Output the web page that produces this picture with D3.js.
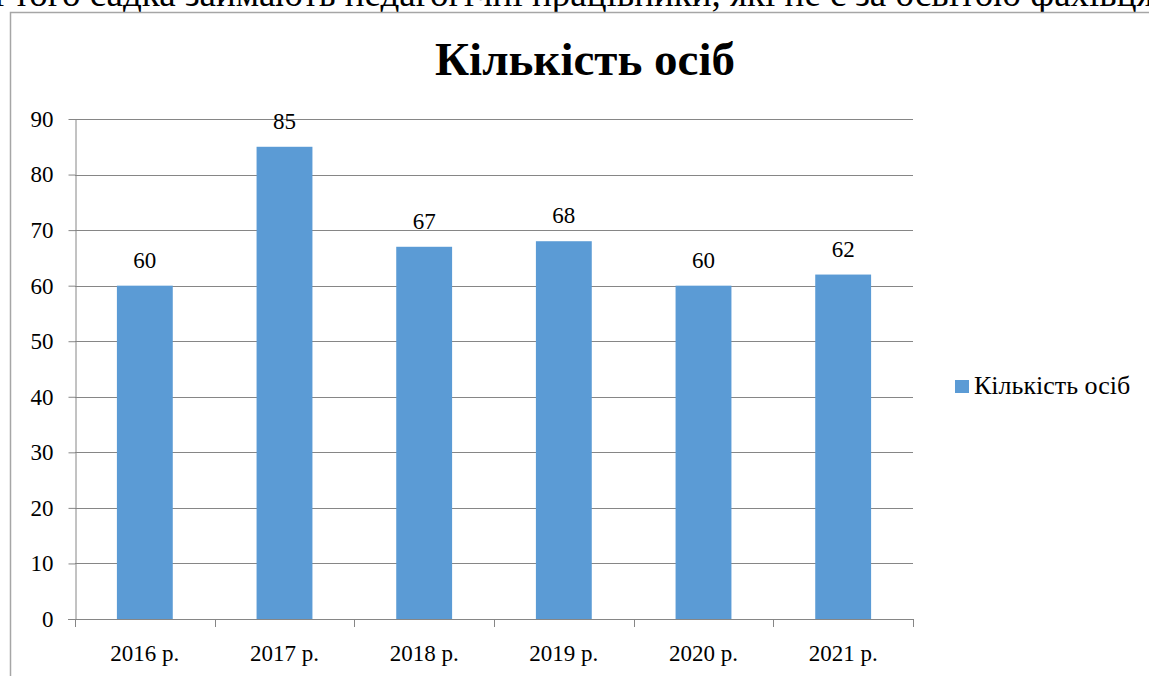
<!DOCTYPE html>
<html>
<head>
<meta charset="utf-8">
<script src="https://cdn.jsdelivr.net/npm/d3@7"></script>
<style>
  html, body { margin: 0; padding: 0; background: #fff; overflow: hidden; }
</style>
</head>
<body>
<div id="vis"></div>
<script>
const years = ["2016 р.", "2017 р.", "2018 р.", "2019 р.", "2020 р.", "2021 р."];
const counts = [60, 85, 67, 68, 60, 62];
const yTicks = [0, 10, 20, 30, 40, 50, 60, 70, 80, 90];
const seriesName = "Кількість осіб";
const pageLine = "і того садка займають педагогічні працівники, які не є за освітою фахівця";

const layout = {
    width: 1149,
    height: 676,
    plotLeft: 75,
    plotRight: 913,
    plotTop: 119,
    plotBottom: 619
};
const serif = "Liberation Serif";

let svg = d3.select("#vis").append("svg")
    .attr("width", layout.width)
    .attr("height", layout.height);

// line of document text, cut off above the chart
svg.append("text")
    .attr("x", -6)
    .attr("y", 6)
    .attr("font-family", serif)
    .attr("font-size", 37)
    .attr("fill", "#000")
    .text(pageLine);

// chart frame (right and bottom edges run off the page)
svg.append("rect")
    .attr("x", 10.5)
    .attr("y", 12.5)
    .attr("width", 1200)
    .attr("height", 700)
    .attr("fill", "#fff")
    .attr("stroke", "#a6a6a6")
    .attr("stroke-width", 1.5);

// title
svg.append("text")
    .attr("x", 585)
    .attr("y", 75)
    .attr("text-anchor", "middle")
    .attr("font-family", serif)
    .attr("font-size", 47)
    .attr("font-weight", "bold")
    .text(seriesName);

// scales
let xScale = d3.scaleBand()
    .domain(years)
    .range([layout.plotLeft, layout.plotRight])
    .paddingInner(0.6)
    .paddingOuter(0.3);
let bandStep = (layout.plotRight - layout.plotLeft) / years.length;
let yScale = d3.scaleLinear()
    .domain([0, 90])
    .range([layout.plotBottom, layout.plotTop]);

// gridlines
svg.append("g")
    .selectAll("line")
    .data(yTicks.filter(d => d > 0))
    .join("line")
    .attr("x1", layout.plotLeft)
    .attr("x2", layout.plotRight)
    .attr("y1", d => Math.round(yScale(d)) + 0.5)
    .attr("y2", d => Math.round(yScale(d)) + 0.5)
    .attr("stroke", "#868686")
    .attr("stroke-width", 1);

// y axis
let yAxis = svg.append("g")
    .attr("transform", `translate(${layout.plotLeft + 0.5},0)`)
    .call(d3.axisLeft(yScale).tickValues(yTicks).tickSize(7).tickPadding(15).tickSizeOuter(0));
yAxis.attr("font-family", serif).attr("font-size", 23);
yAxis.select(".domain").attr("stroke", "#868686");
yAxis.selectAll("line").attr("stroke", "#868686");
yAxis.selectAll("text").attr("fill", "#000");

// bars
svg.append("g")
    .selectAll("rect")
    .data(counts)
    .join("rect")
    .attr("x", (d, i) => xScale(years[i]))
    .attr("y", d => yScale(d))
    .attr("width", xScale.bandwidth())
    .attr("height", d => yScale(0) - yScale(d))
    .attr("fill", "#5b9bd5");

// data labels
svg.append("g")
    .selectAll("text")
    .data(counts)
    .join("text")
    .attr("x", (d, i) => xScale(years[i]) + xScale.bandwidth() / 2)
    .attr("y", d => yScale(d) - 18)
    .attr("text-anchor", "middle")
    .attr("font-family", serif)
    .attr("font-size", 23)
    .text(d => d);

// x axis: ticks at category boundaries
let xAxisG = svg.append("g");
xAxisG.append("line")
    .attr("x1", layout.plotLeft - 7)
    .attr("x2", layout.plotRight)
    .attr("y1", layout.plotBottom + 0.5)
    .attr("y2", layout.plotBottom + 0.5)
    .attr("stroke", "#868686");
xAxisG.selectAll(".xtick")
    .data(d3.range(years.length + 1))
    .join("line")
    .attr("class", "xtick")
    .attr("x1", i => Math.round(layout.plotLeft + i * bandStep) + 0.5)
    .attr("x2", i => Math.round(layout.plotLeft + i * bandStep) + 0.5)
    .attr("y1", layout.plotBottom)
    .attr("y2", layout.plotBottom + 8)
    .attr("stroke", "#868686");
xAxisG.selectAll(".xlabel")
    .data(years)
    .join("text")
    .attr("class", "xlabel")
    .attr("x", d => xScale(d) + xScale.bandwidth() / 2)
    .attr("y", 661)
    .attr("text-anchor", "middle")
    .attr("font-family", serif)
    .attr("font-size", 23)
    .text(d => d);

// legend
svg.append("rect")
    .attr("x", 955)
    .attr("y", 380)
    .attr("width", 14)
    .attr("height", 13)
    .attr("fill", "#5b9bd5");
svg.append("text")
    .attr("x", 974)
    .attr("y", 394)
    .attr("font-family", serif)
    .attr("font-size", 26)
    .text(seriesName);
</script>
</body>
</html>
